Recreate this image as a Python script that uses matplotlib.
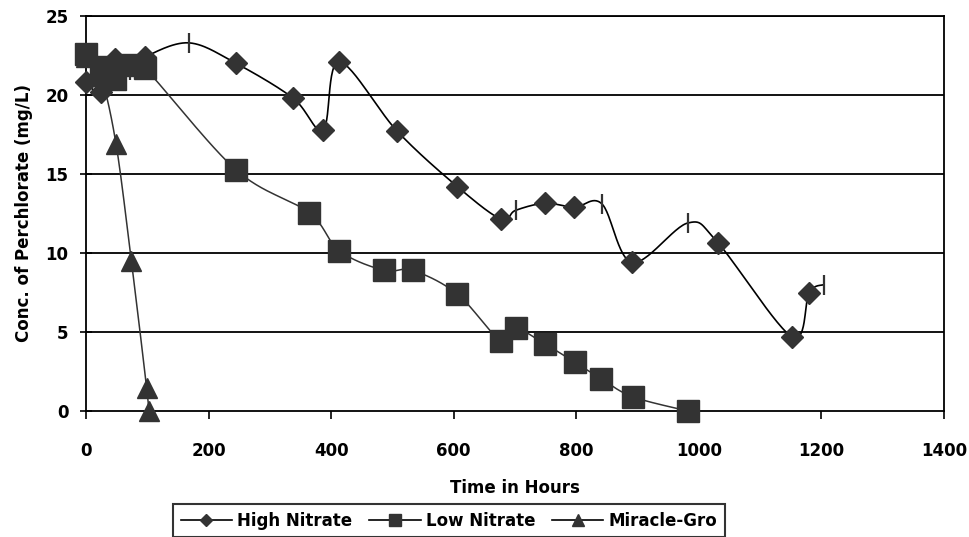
import numpy as np
import matplotlib
matplotlib.use("Agg")
import matplotlib.pyplot as plt
from matplotlib.lines import Line2D

# sampling times (hours) and perchlorate concentrations (mg/L)
hn_hours = [0, 24, 48, 72, 96, 168, 245, 338, 387, 413, 508, 606, 677, 701,
            749, 797, 842, 891, 982, 1031, 1152, 1180, 1204]
hn_conc = [20.8, 20.2, 22.3, 21.6, 22.4, 23.3, 22.0, 19.8, 17.8, 22.1, 17.7,
           14.2, 12.15, 12.7, 13.15, 12.9, 13.1, 9.4, 11.9, 10.65, 4.7, 7.5, 8.0]
# points drawn with a dash instead of a diamond
hn_dash = [3, 5, 13, 16, 18, 22]

ln_hours = [0, 24, 48, 72, 96, 245, 364, 413, 486, 533, 606, 677, 701, 749,
            798, 841, 892, 982]
ln_conc = [22.6, 21.8, 21.0, 21.9, 21.7, 15.25, 12.55, 10.15, 8.9, 8.9, 7.4,
           4.43, 5.23, 4.24, 3.08, 2.03, 0.9, 0.0]

mg_hours = [0, 24, 49, 74, 99, 102]
mg_conc = [22.4, 21.2, 16.9, 9.5, 1.45, 0.0]

x_ticks = [0, 200, 400, 600, 800, 1000, 1200, 1400]
y_ticks = [0, 5, 10, 15, 20, 25]

plt.rcParams['font.family'] = ['DejaVu Sans']
plt.rcParams['font.weight'] = 'bold'

DARK = '#333333'


def smooth(x, y, sx, sy, n=30):
    '''Bezier smoothing through the points, done in screen-like units.'''
    P = np.column_stack([np.asarray(x, float) * sx, np.asarray(y, float) * sy])
    out = [P[0]]
    t = np.linspace(0, 1, n)[1:, None]
    for i in range(len(P) - 1):
        p0 = P[i - 1] if i > 0 else P[i]
        p1, p2 = P[i], P[i + 1]
        p3 = P[i + 2] if i + 2 < len(P) else P[i + 1]
        c1 = p1 + (p2 - p0) / 6
        c2 = p2 - (p3 - p1) / 6
        seg = (1 - t)**3 * p1 + 3 * (1 - t)**2 * t * c1 + 3 * (1 - t) * t**2 * c2 + t**3 * p2
        out.extend(seg)
    out = np.array(out)
    return out[:, 0] / sx, out[:, 1] / sy


fig = plt.figure(figsize=(9.69, 5.37), dpi=100)
ax = fig.add_axes([86 / 969, 1 - 411 / 537, 858 / 969, 395 / 537])
ax.set_xlim(0, 1400)
ax.set_ylim(0, 25)
sx, sy = 858 / 1400, 395 / 25

for v in y_ticks[1:]:
    ax.axhline(v, color='black', lw=1.3, zorder=1)

# High Nitrate
xs, ys = smooth(hn_hours, hn_conc, sx, sy)
ax.plot(xs, ys, color='black', lw=1.2, zorder=3, clip_on=False)
dia = [i for i in range(len(hn_hours)) if i not in hn_dash]
ax.plot([hn_hours[i] for i in dia], [hn_conc[i] for i in dia], ls='none',
        marker='D', ms=11, color=DARK, mec=DARK, zorder=5, clip_on=False)
ax.plot([hn_hours[i] for i in hn_dash], [hn_conc[i] for i in hn_dash], ls='none',
        marker='|', ms=15, mew=1.6, color=DARK, zorder=5, clip_on=False)

# Low Nitrate
xs, ys = smooth(ln_hours, ln_conc, sx, sy)
ax.plot(xs, ys, color=DARK, lw=1.1, zorder=3, clip_on=False)
ax.plot(ln_hours, ln_conc, ls='none', marker='s', ms=15.5, color=DARK, mec=DARK,
        zorder=6, clip_on=False)

# Miracle-Gro
xs, ys = smooth(mg_hours, mg_conc, sx, sy)
ax.plot(xs, ys, color=DARK, lw=1.1, zorder=3, clip_on=False)
ax.plot(mg_hours, mg_conc, ls='none', marker='^', ms=15, color=DARK, mec=DARK,
        zorder=4, clip_on=False)

for s in ax.spines.values():
    s.set_linewidth(1.3)
    s.set_color('black')

ax.set_xticks(x_ticks)
ax.set_yticks(y_ticks)
ax.tick_params(axis='x', direction='out', length=6, width=1.2, pad=16, labelsize=12)
ax.tick_params(axis='y', direction='inout', length=9, width=1.2, pad=8, labelsize=12)
for lab in ax.get_xticklabels() + ax.get_yticklabels():
    lab.set_fontweight('bold')

ax.set_xlabel('Time in Hours', fontsize=12, fontweight='bold', labelpad=14)
ax.set_ylabel('Conc. of Perchlorate (mg/L)', fontsize=12, fontweight='bold', labelpad=9)

handles = [
    Line2D([], [], color='black', lw=1.2, marker='D', ms=6.5, mfc=DARK, mec=DARK),
    Line2D([], [], color='black', lw=1.2, marker='s', ms=8, mfc=DARK, mec=DARK),
    Line2D([], [], color='black', lw=1.2, marker='^', ms=9, mfc=DARK, mec=DARK),
]
leg = fig.legend(handles, ['High Nitrate', 'Low Nitrate', 'Miracle-Gro'],
                 loc='upper left', bbox_to_anchor=(173 / 969, 1 - 504 / 537),
                 ncol=3, frameon=True, fancybox=False, fontsize=12,
                 handlelength=3.1, handletextpad=0.3, columnspacing=1.0,
                 borderpad=0.45, borderaxespad=0)
leg.get_frame().set_edgecolor('black')
leg.get_frame().set_linewidth(1.5)
for t in leg.get_texts():
    t.set_fontweight('bold')

fig.savefig('out.png', dpi=100)
